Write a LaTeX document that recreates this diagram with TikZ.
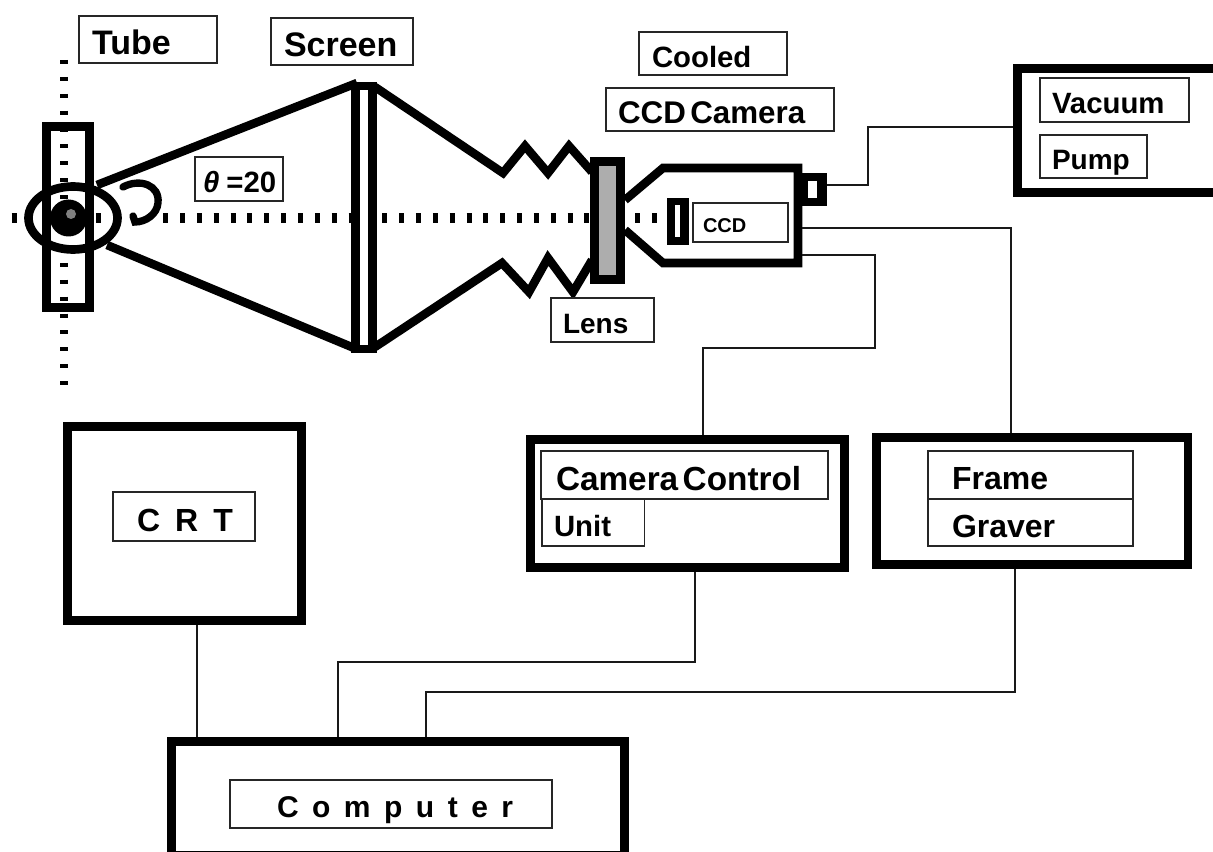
\documentclass[tikz,border=0pt]{standalone}
\usepackage{fontspec}
\setmainfont{Liberation Sans}
\tikzset{
  heavy/.style={line width=6.4pt,line join=miter,draw=black},
  heavybox/.style={heavy,fill=white,inner sep=0pt},
  wire/.style={line width=1.5pt,draw=black!90,line join=miter},
  labelbox/.style={draw=black!85,line width=1pt,fill=white,inner ysep=0pt,align=left,font=\bfseries},
  dots/.style={line width=#1,draw=black},
}
\newcommand\tbox[5]{%
  \pgfmathsetmacro\bw{(#4-#2-8.5)*0.75}\pgfmathsetmacro\bh{(#5-#3-8.5)*0.75}%
  \node[heavybox,minimum width=\bw pt,minimum height=\bh pt] (#1) at ({(#2+#4)/2},{(#3+#5)/2}) {};}
\newcommand\lab[8]{%
  \pgfmathsetmacro\bw{(#4-#2)*0.75}\pgfmathsetmacro\bh{(#5-#3)*0.75}%
  \pgfmathsetmacro\pd{#6*0.75}\pgfmathsetmacro\tw{\bw-2*\pd}%
  \pgfmathsetmacro\th{#7*0.72+4.5}%
  \node[labelbox,minimum width=\bw pt,minimum height=\bh pt,inner xsep=\pd pt,text width=\tw pt,
        text height=\th pt,text depth=0pt] (#1) at ({(#2+#4)/2},{(#3+#5)/2})
        {\fontsize{#7}{#7}\selectfont #8};}
\begin{document}
\begin{tikzpicture}[x=0.75pt,y=-0.75pt]
\useasboundingbox (0,0) rectangle (1213,852);
\clip (0,0) rectangle (1213,852);
\fill[white] (0,0) rectangle (1213,852);

% named points of the apparatus
\coordinate (coneTop) at (97,185);
\coordinate (coneBot) at (107,245);
\coordinate (scrTL) at (357,83);
\coordinate (scrBL) at (354,348);
\coordinate (scrTR) at (375,87);
\coordinate (scrBR) at (375,347);

% tube and dotted axes
\tbox{tube}{42}{122}{94}{312}
\draw[dots=6pt,dash pattern=on 3pt off 9.675pt] (64,60) -- (64,385);
\draw[dots=7pt,dash pattern=on 3.75pt off 8.89pt] (11.5,218) -- (125,218);
\draw[dots=7pt,dash pattern=on 3.75pt off 8.89pt] (163.15,218) -- (658,218);

% bellows and cone
\draw[heavy] (coneTop) -- (scrTL);
\draw[heavy] (coneBot) -- (scrBL);
\draw[heavy] (scrTR) -- (503,173) -- (525,146) -- (548,173) -- (569,146) -- (592,172);
\draw[heavy] (scrBR) -- (502,263) -- (529,292) -- (548,258) -- (573,292) -- (592,260);

% screen
\node[heavybox,minimum width=12.5pt,minimum height=197pt] (screen) at (364,217.5) {};

% sample
\draw[heavy,line width=6.5pt] (73,218) ellipse [x radius=44.5,y radius=31.5];
\fill[black] (68.5,218) circle [radius=18.5];
\fill[black!50] (71,214) circle [radius=5];
\draw[heavy,line width=5.5pt,line cap=round]
  (123,187) .. controls (140,178) and (160,185) .. (158,203)
  .. controls (157,214) and (146,222) .. (135,222) -- (133,216);

% camera
\draw[heavy] (625,200) -- (663,168) -- (798,168) -- (798,263) -- (663,263) -- (625,230);
\node[heavybox,draw=black,fill=black!32,minimum width=19.5pt,minimum height=88.5pt] (lens) at (607.5,220.5) {};
\node[fill=black,inner sep=0pt,minimum width=18.75pt,minimum height=24.75pt] (port) at (814.5,189.5) {};
\fill[white] (808,181) rectangle (817,198);
\node[fill=black,inner sep=0pt,minimum width=16.5pt,minimum height=35.25pt] (sensor) at (678,221.5) {};
\fill[white] (675,205) rectangle (680,237);

% labels of the apparatus
\lab{ltube}{79}{16}{217}{63}{13}{25.5}{Tube}
\lab{lscreen}{271}{18}{413}{65}{13}{25.5}{Screen}
\lab{ltheta}{195}{157}{283}{201}{8}{22}{\mbox{\textit{θ}\hspace{2pt} =20}}
\lab{lcooled}{639}{32}{787}{75}{13}{22}{Cooled}
\lab{lcamera}{606}{88}{834}{131}{12}{23.5}{CCD Camera}
\lab{lccd}{693}{203}{788}{242}{10}{15}{CCD}
\lab{llens}{551}{298}{654}{342}{12}{21}{Lens}

% vacuum pump
\tbox{vac}{1013}{64}{1240}{197}
\lab{lvac}{1040}{78}{1189}{122}{12}{22}{Vacuum}
\lab{lpump}{1040}{135}{1147}{178}{12}{21}{Pump}

% CRT
\tbox{crt}{63}{422}{306}{625}
\lab{lcrt}{113}{492}{255}{541}{24}{24}{\spaceskip=.47em \mbox{C R T}}

% camera control unit
\tbox{ccu}{526}{435}{849}{572}
\lab{lcc}{541}{451}{828}{499}{15}{25}{Camera Control}
\lab{lunit}{542}{499}{644.5}{546}{12}{22}{Unit}

% frame graver
\tbox{fg}{872}{433}{1192}{569}
\lab{lframe}{928}{451}{1133}{499}{24}{24}{Frame}
\lab{lgraver}{928}{499}{1133}{546}{24}{24}{Graver}

% computer
\tbox{comp}{167}{737}{629}{860}
\lab{lcomp}{230}{780}{552}{828}{47}{22.5}{\spaceskip=.45em \mbox{C o m p u t e r}}

% wiring corners
\coordinate (a1) at (868,185);
\coordinate (a2) at (868,127);
\coordinate (b0) at (802,228);
\coordinate (b1) at (1011,228);
\coordinate (c0) at (802,255);
\coordinate (c1) at (875,255);
\coordinate (c2) at (875,348);
\coordinate (c3) at (703,348);
\coordinate (d0) at (197,625);
\coordinate (e1) at (694.5,662);
\coordinate (e2) at (338,662);
\coordinate (f1) at (1015,692);
\coordinate (f2) at (426,692);

\draw[wire] (port.east |- a1) -- (a1) -- (a2) -- (a2 -| vac.west);
\draw[wire] (b0) -- (b1) -- (b1 |- fg.north);
\draw[wire] (c0) -- (c1) -- (c2) -- (c3) -- (c3 |- ccu.north);
\draw[wire] (d0 |- crt.south) -- (d0 |- comp.north);
\draw[wire] (e1 |- ccu.south) -- (e1) -- (e2) -- (e2 |- comp.north);
\draw[wire] (f1 |- fg.south) -- (f1) -- (f2) -- (f2 |- comp.north);
\end{tikzpicture}
\end{document}
